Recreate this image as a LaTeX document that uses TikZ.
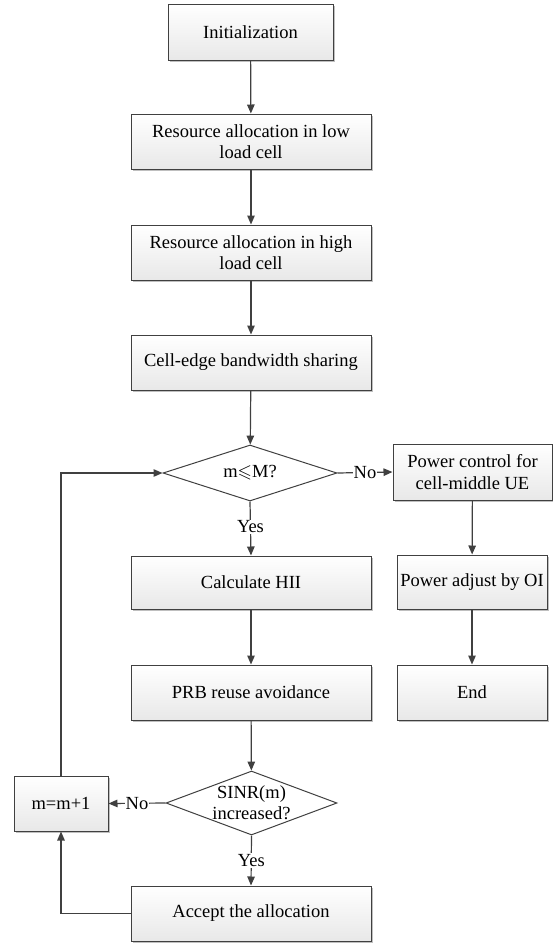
\documentclass[tikz,border=0pt]{standalone}
\usepackage{fontspec}
\usepackage{amssymb}
\setmainfont{Liberation Serif}
\usetikzlibrary{arrows.meta,shapes.geometric,shadows}
\definecolor{linec}{HTML}{404040}
\begin{document}
\begin{tikzpicture}[x=1pt,y=-1pt,
  font=\fontsize{18.5}{21.3}\selectfont,
  every node/.style={text=black},
  boxstyle/.style={draw=linec, line width=1pt, top color=white, bottom color=black!9,
    drop shadow={shadow xshift=1.5pt, shadow yshift=-1.5pt, opacity=0.25, fill=black},
    align=center, inner sep=2pt},
  diastyle/.style={draw=linec, line width=1pt, diamond, fill=white, inner sep=0pt},
  arr/.style={draw=linec, line width=1.2pt, -{Triangle[length=9pt,width=7.5pt]}},
  lab/.style={fill=white, inner sep=1pt}
]
\path[use as bounding box] (0,0) rectangle (553,943);

\node[boxstyle, minimum width=165, minimum height=56] (init) at (250.5,32) {Initialization};
\node[boxstyle, minimum width=240, minimum height=55] (low) at (251,141.5) {Resource allocation in low\\load cell};
\node[boxstyle, minimum width=240, minimum height=55] (high) at (251,252.5) {Resource allocation in high\\load cell};
\node[boxstyle, minimum width=240, minimum height=55] (edge) at (251,362.5) {Cell-edge bandwidth sharing};
\node[diastyle, minimum width=174, minimum height=56] (d1) at (250,473) {};
\node (d1t) at (d1) {m$\leqslant$M?};
\node[boxstyle, minimum width=240, minimum height=53] (calc) at (251,582.5) {Calculate HII};
\node[boxstyle, minimum width=240, minimum height=55] (prb) at (251,692.5) {PRB reuse avoidance};
\node[diastyle, minimum width=171, minimum height=64] (d2) at (251.5,803) {};
\node[align=center] (d2t) at (d2) {SINR(m)\\increased?};
\node[boxstyle, minimum width=94, minimum height=55] (mm) at (61,803.5) {m=m+1};
\node[boxstyle, minimum width=240, minimum height=55] (acc) at (251,913.5) {Accept the allocation};
\node[boxstyle, minimum width=159, minimum height=56] (pc) at (472.5,472) {Power control for\\cell-middle UE};
\node[boxstyle, minimum width=150, minimum height=54] (pa) at (472,582) {Power adjust by OI};
\node[boxstyle, minimum width=150, minimum height=55] (end) at (472,692.5) {End};

\draw[arr] (init) -- (low);
\draw[arr] (low) -- (high);
\draw[arr] (high) -- (edge);
\draw[arr] (edge) -- (d1);
\draw[arr] (d1.east) -- node[lab] (no1) {No} (pc.west);
\draw[arr] (d1.south) -- node[lab, pos=0.47] (yes1) {Yes} (calc.north);
\draw[arr] (calc) -- (prb);
\draw[arr] (prb) -- (d2);
\draw[arr] (d2.west) -- node[lab, pos=0.5] (no2) {No} (mm.east);
\draw[arr] (d2.south) -- node[lab, pos=0.5] (yes2) {Yes} (acc.north);
\draw[arr] (acc.west) -| (mm.south);
\draw[arr] (mm.north) |- (d1.west);
\draw[arr] (pc) -- (pa);
\draw[arr] (pa) -- (end);
\end{tikzpicture}
\end{document}
